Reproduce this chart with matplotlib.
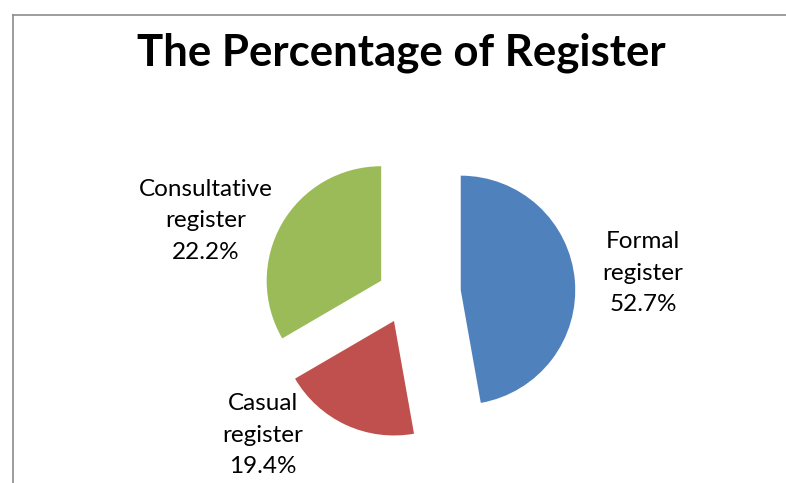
import matplotlib.pyplot as plt
from matplotlib.lines import Line2D

# slice sizes as drawn, labels as printed on the chart
categories = ["Formal\nregister", "Casual\nregister", "Consultative\nregister"]
sizes = [47.2, 19.4, 33.4]
pct_labels = ["52.7%", "19.4%", "22.2%"]
colors = ["#4F81BD", "#C0504D", "#9BBB59"]
explode = [0.48, 0.25, 0.25]

W, H = 786, 483
R = 114.5            # pie radius in pixels
cx, cy = 406, 295    # pie centre in pixels (from top-left)

fig = plt.figure(figsize=(W / 100, H / 100), dpi=100)
ax = fig.add_axes([0, 0, 1, 1])

ax.pie(sizes, colors=colors, startangle=90, counterclock=False,
       explode=explode, wedgeprops={"linewidth": 0})
ax.set_aspect("equal")
ax.set_xlim(-cx / R, (W - cx) / R)
ax.set_ylim(-(H - cy) / R, cy / R)
ax.axis("off")

font = "Lato"

def px(x, y):
    return x / W, 1 - y / H

# title
fig.text(*px(401, 53), "The Percentage of Register", ha="center", va="center",
         fontsize=31.5, fontweight="bold", family=font)

# data labels
label_pos = [(643, 273), (263, 435), (206, 221)]
for cat, pct, (x, y) in zip(categories, pct_labels, label_pos):
    fig.text(*px(x, y), cat + "\n" + pct, ha="center", va="center",
             fontsize=17.5, family=font, linespacing=1.62)

# chart-area border (top and left visible)
border = "#8C8C8C"
fig.add_artist(Line2D([13 / W, 1], [1 - 15 / H, 1 - 15 / H], color=border, lw=1.2))
fig.add_artist(Line2D([13 / W, 13 / W], [1 - 15 / H, 0], color=border, lw=1.2))

fig.savefig("out.png", dpi=100)
